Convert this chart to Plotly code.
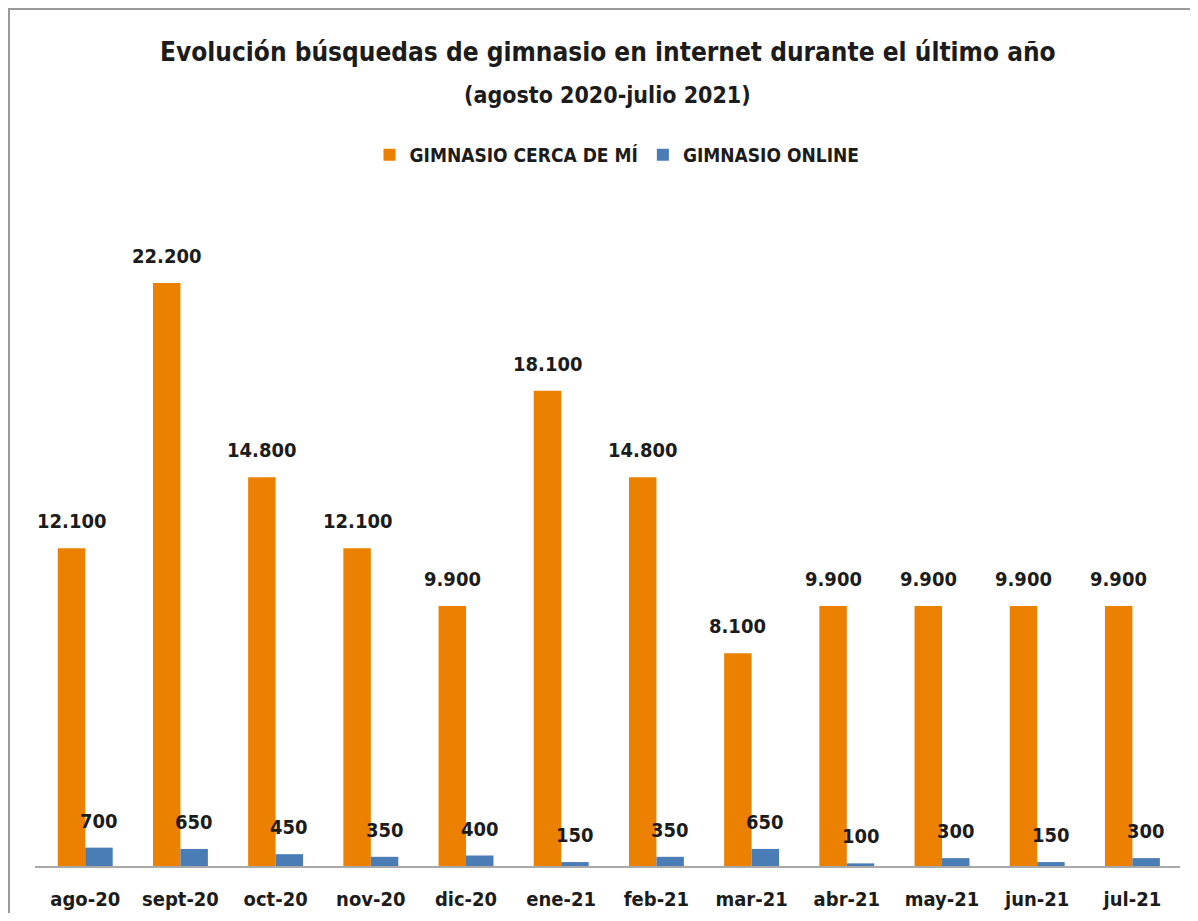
import plotly.graph_objects as go

months = ["ago-20", "sept-20", "oct-20", "nov-20", "dic-20", "ene-21",
          "feb-21", "mar-21", "abr-21", "may-21", "jun-21", "jul-21"]
cerca = [12100, 22200, 14800, 12100, 9900, 18100, 14800, 8100, 9900, 9900, 9900, 9900]
online = [700, 650, 450, 350, 400, 150, 350, 650, 100, 300, 150, 300]

FONT = "DejaVu Sans Condensed, Liberation Sans Narrow, Arial Narrow, sans-serif"
ORANGE = "#EC8000"
BLUE = "#4A7DB6"
TXT = "#1c1c1c"

# page has an 8px body margin; figure is sized to fit the rest without overflow
W, H = 1182, 905
L, R, T, B = 27, 10, 232, 47
plot_w = W - L - R
plot_h = H - T - B
BARGAP = 0.423
OFF = (1 - BARGAP) / 4  # centre offset of each bar within its group (category units)


def py(page_y):
    """page pixel y -> paper y"""
    return (H - B - (page_y - 8)) / plot_h


def px(page_x):
    return ((page_x - 8) - L) / plot_w


def fmt(v):
    return f"{v:,}".replace(",", ".")


fig = go.Figure()
fig.add_trace(go.Bar(
    x=months, y=cerca, name="GIMNASIO CERCA DE MÍ",
    marker=dict(color=ORANGE, line=dict(width=0)),
))
fig.add_trace(go.Bar(
    x=months, y=online, name="GIMNASIO ONLINE",
    marker=dict(color=BLUE, line=dict(width=0)),
))

annotations = []
for series, sign in ((cerca, -1), (online, 1)):
    for i, v in enumerate(series):
        annotations.append(dict(
            x=i + sign * OFF, y=v, xref="x", yref="y",
            text=fmt(v), showarrow=False, yanchor="bottom", yshift=13,
            font=dict(family=FONT, size=20, color=TXT, weight="bold"),
        ))

annotations.append(dict(
    x=px(608), y=py(52), xref="paper", yref="paper", showarrow=False,
    text="Evolución búsquedas de gimnasio en internet durante el último año",
    font=dict(family=FONT, size=26, color=TXT, weight="bold"),
    xanchor="center", yanchor="middle",
))
annotations.append(dict(
    x=px(607), y=py(95), xref="paper", yref="paper", showarrow=False,
    text="(agosto 2020-julio 2021)",
    font=dict(family=FONT, size=23, color=TXT, weight="bold"),
    xanchor="center", yanchor="middle",
))

fig.update_layout(
    width=W, height=H,
    margin=dict(l=L, r=R, t=T, b=B),
    paper_bgcolor="white", plot_bgcolor="white",
    barmode="group", bargap=BARGAP, bargroupgap=0,
    font=dict(family=FONT, color=TXT),
    legend=dict(
        orientation="h", x=px(617), xanchor="center", y=py(155),
        yanchor="middle", font=dict(family=FONT, size=19, color=TXT, weight="bold"),
        traceorder="normal",
    ),
    showlegend=True,
    modebar=dict(bgcolor="rgba(0,0,0,0)", color="rgba(0,0,0,0)", activecolor="rgba(0,0,0,0)"),
    xaxis=dict(
        showline=True, linecolor="#A9A9A9", linewidth=1.5, ticks="",
        tickfont=dict(family=FONT, size=20, color=TXT, weight="bold"),
        ticklabelstandoff=14,
        showgrid=False, fixedrange=True, automargin=False,
    ),
    yaxis=dict(range=[0, 23837], visible=False, showgrid=False, fixedrange=True),
    annotations=annotations,
    shapes=[
        dict(type="rect", xref="paper", yref="paper",
             x0=px(9), x1=px(1260),
             y0=py(9), y1=py(990),
             line=dict(color="#9a9a9a", width=2), fillcolor="rgba(0,0,0,0)",
             layer="below"),
    ],
)

fig.write_html("out.html", config={"displayModeBar": False})
